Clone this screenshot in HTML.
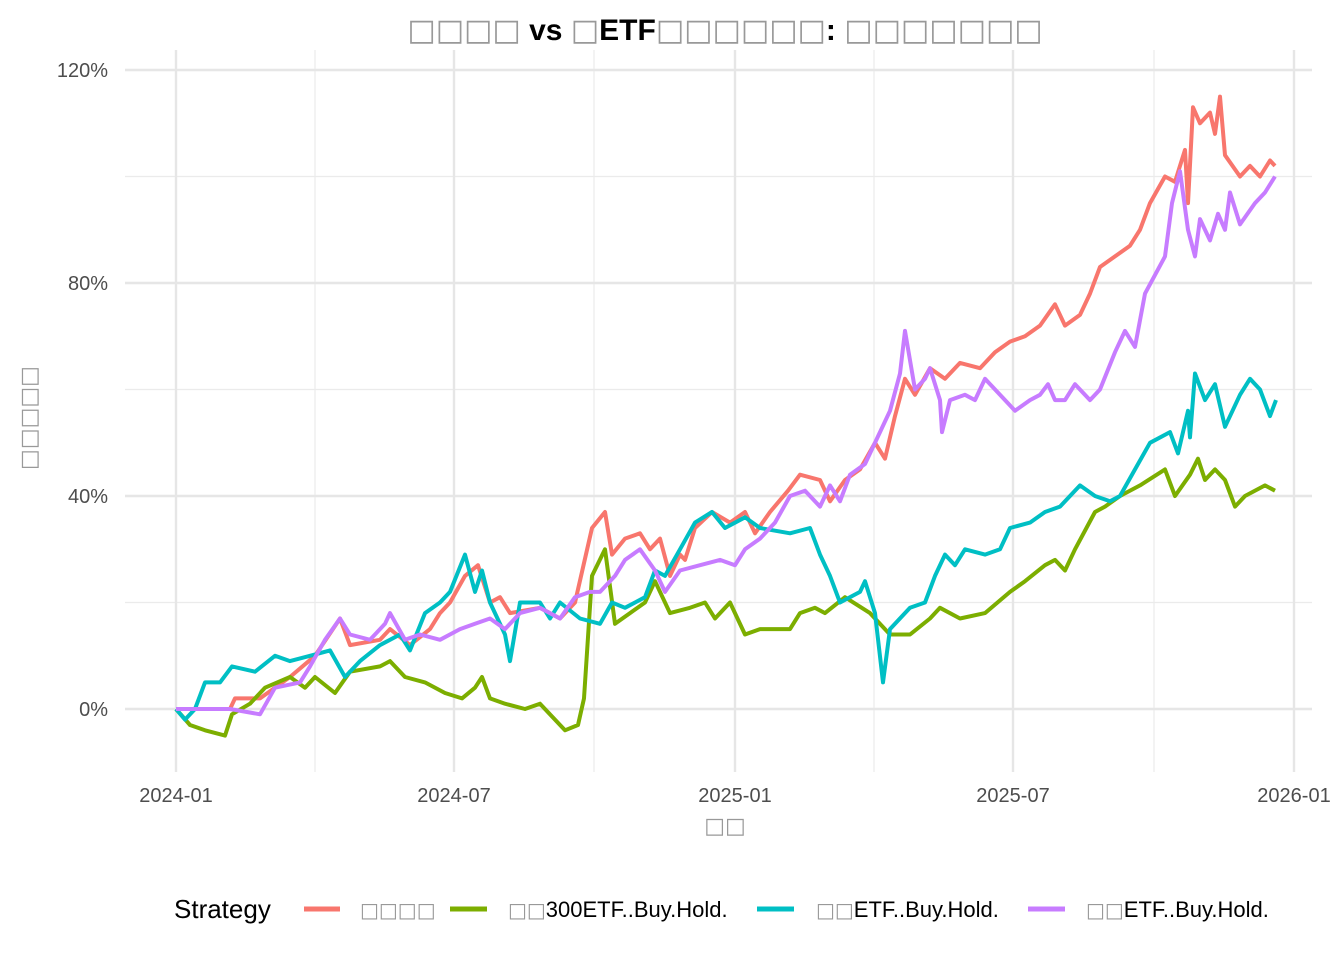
<!DOCTYPE html>
<html><head><meta charset="utf-8"><style>
body{margin:0;background:#fff;width:1344px;height:960px;overflow:hidden}
text{font-family:"Liberation Sans",sans-serif}
.b{font-family:"DejaVu Sans",sans-serif;fill:#999}
</style></head><body>
<svg id="s" width="1344" height="960" xmlns="http://www.w3.org/2000/svg">
<g stroke="#ebebeb" stroke-width="1.2">
<line x1="125" x2="1312" y1="176.5" y2="176.5"/><line x1="125" x2="1312" y1="389.5" y2="389.5"/><line x1="125" x2="1312" y1="602.5" y2="602.5"/>
<line y1="50" y2="772" x1="315" x2="315"/><line y1="50" y2="772" x1="594" x2="594"/><line y1="50" y2="772" x1="874" x2="874"/><line y1="50" y2="772" x1="1154" x2="1154"/>
</g>
<g stroke="#e6e6e6" stroke-width="2.4">
<line x1="125" x2="1312" y1="70" y2="70"/><line x1="125" x2="1312" y1="283" y2="283"/><line x1="125" x2="1312" y1="496" y2="496"/><line x1="125" x2="1312" y1="709" y2="709"/>
<line y1="50" y2="772" x1="176" x2="176"/><line y1="50" y2="772" x1="454" x2="454"/><line y1="50" y2="772" x1="735" x2="735"/><line y1="50" y2="772" x1="1013" x2="1013"/><line y1="50" y2="772" x1="1294" x2="1294"/>
</g>
<g font-size="20" fill="#4d4d4d" text-anchor="end">
<text x="108" y="77">120%</text><text x="108" y="290">80%</text><text x="108" y="503">40%</text><text x="108" y="716">0%</text>
</g>
<g font-size="20" fill="#4d4d4d" text-anchor="middle">
<text x="176" y="802">2024-01</text><text x="454" y="802">2024-07</text><text x="735" y="802">2025-01</text><text x="1013" y="802">2025-07</text><text x="1294" y="802">2026-01</text>
</g>
<g id="lines" fill="none" stroke-width="4" stroke-linejoin="round"></g>
<text x="725" y="40" text-anchor="middle" font-size="30" font-weight="bold" fill="#000"><tspan class="b" font-weight="normal">□□□□</tspan> vs <tspan class="b" font-weight="normal">□</tspan>ETF<tspan class="b" font-weight="normal">□□□□□□</tspan>: <tspan class="b" font-weight="normal">□□□□□□□</tspan></text>
<text class="b" x="725" y="833" text-anchor="middle" font-size="22">□□</text>
<text class="b" transform="translate(36,418) rotate(-90)" text-anchor="middle" font-size="22">□□□□□</text>
<text x="174" y="918" font-size="26" fill="#000">Strategy</text>
<g stroke-width="5">
<line x1="304" x2="340" y1="909" y2="909" stroke="#f8766d"/>
<line x1="450" x2="487" y1="909" y2="909" stroke="#7cae00"/>
<line x1="757" x2="794" y1="909" y2="909" stroke="#00bfc4"/>
<line x1="1028" x2="1065" y1="909" y2="909" stroke="#c77cff"/>
</g>
<g font-size="22" fill="#000">
<text class="b" x="360" y="917" font-size="20">□□□□</text>
<text x="508" y="917"><tspan class="b" font-size="20">□□</tspan>300ETF..Buy.Hold.</text>
<text x="816" y="917"><tspan class="b" font-size="20">□□</tspan>ETF..Buy.Hold.</text>
<text x="1086" y="917"><tspan class="b" font-size="20">□□</tspan>ETF..Buy.Hold.</text>
</g>
</svg>
<script>
var D={
"#f8766d":[176,0,230,0,235,2,260,2,290,6,315,10,340,17,350,12,380,13,390,15,410,12,430,15,440,18,450,20,465,25,478,27,490,20,500,21,510,18,540,19,560,17,575,20,592,34,605,37,612,29,625,32,640,33,650,30,660,32,670,25,680,29,685,28,695,34,712,37,730,35,745,37,755,33,770,37,788,41,800,44,820,43,830,39,845,43,860,45,875,50,885,47,895,55,905,62,915,59,930,64,945,62,960,65,980,64,995,67,1010,69,1025,70,1040,72,1055,76,1065,72,1080,74,1090,78,1100,83,1115,85,1130,87,1140,90,1150,95,1165,100,1175,99,1185,105,1188,95,1193,113,1200,110,1210,112,1215,108,1220,115,1225,104,1240,100,1250,102,1260,100,1270,103,1275,102],
"#7cae00":[176,0,190,-3,205,-4,225,-5,232,-1,250,1,265,4,290,6,305,4,315,6,335,3,350,7,380,8,390,9,405,6,425,5,445,3,462,2,475,4,482,6,490,2,505,1,525,0,540,1,565,-4,578,-3,584,2,592,25,605,30,615,16,630,18,645,20,655,24,670,18,690,19,705,20,715,17,730,20,745,14,760,15,790,15,800,18,815,19,825,18,845,21,870,18,890,14,910,14,930,17,940,19,960,17,985,18,1010,22,1025,24,1045,27,1055,28,1065,26,1075,30,1095,37,1105,38,1120,40,1140,42,1165,45,1175,40,1190,44,1198,47,1205,43,1215,45,1225,43,1235,38,1245,40,1265,42,1275,41],
"#00bfc4":[176,0,185,-2,195,0,205,5,220,5,232,8,255,7,275,10,290,9,310,10,330,11,345,6,360,9,380,12,400,14,410,11,425,18,440,20,450,22,465,29,475,22,482,26,490,20,505,14,510,9,520,20,540,20,550,17,560,20,580,17,600,16,612,20,625,19,645,21,655,26,665,25,680,30,695,35,712,37,725,34,745,36,760,34,790,33,810,34,820,29,830,25,840,20,860,22,865,24,875,18,883,5,890,15,910,19,925,20,935,25,945,29,955,27,965,30,985,29,1000,30,1010,34,1030,35,1045,37,1060,38,1080,42,1095,40,1110,39,1120,40,1135,45,1150,50,1170,52,1178,48,1188,56,1190,51,1195,63,1205,58,1215,61,1225,53,1240,59,1250,62,1260,60,1270,55,1276,58],
"#c77cff":[176,0,230,0,260,-1,275,4,300,5,310,8,325,13,340,17,350,14,370,13,385,16,390,18,405,13,420,14,440,13,460,15,475,16,490,17,505,15,520,18,540,19,560,17,575,21,590,22,600,22,615,25,625,28,640,30,655,26,665,22,680,26,700,27,720,28,735,27,745,30,760,32,775,35,790,40,805,41,820,38,830,42,840,39,850,44,865,46,880,52,890,56,900,63,905,71,915,60,925,62,930,64,940,58,942,52,950,58,965,59,975,58,985,62,1000,59,1015,56,1030,58,1040,59,1048,61,1055,58,1065,58,1075,61,1090,58,1100,60,1115,67,1125,71,1135,68,1145,78,1165,85,1172,95,1180,101,1188,90,1195,85,1200,92,1210,88,1218,93,1225,90,1230,97,1240,91,1255,95,1265,97,1275,100]};
var g=document.getElementById('lines'),h='';
for(var c in D){var a=D[c],p='';for(var i=0;i<a.length;i+=2)p+=(i?'L':'M')+a[i]+','+(709-a[i+1]*5.325).toFixed(1);h+='<path stroke="'+c+'" d="'+p+'"/>';}
g.innerHTML=h;
</script>
</body></html>
